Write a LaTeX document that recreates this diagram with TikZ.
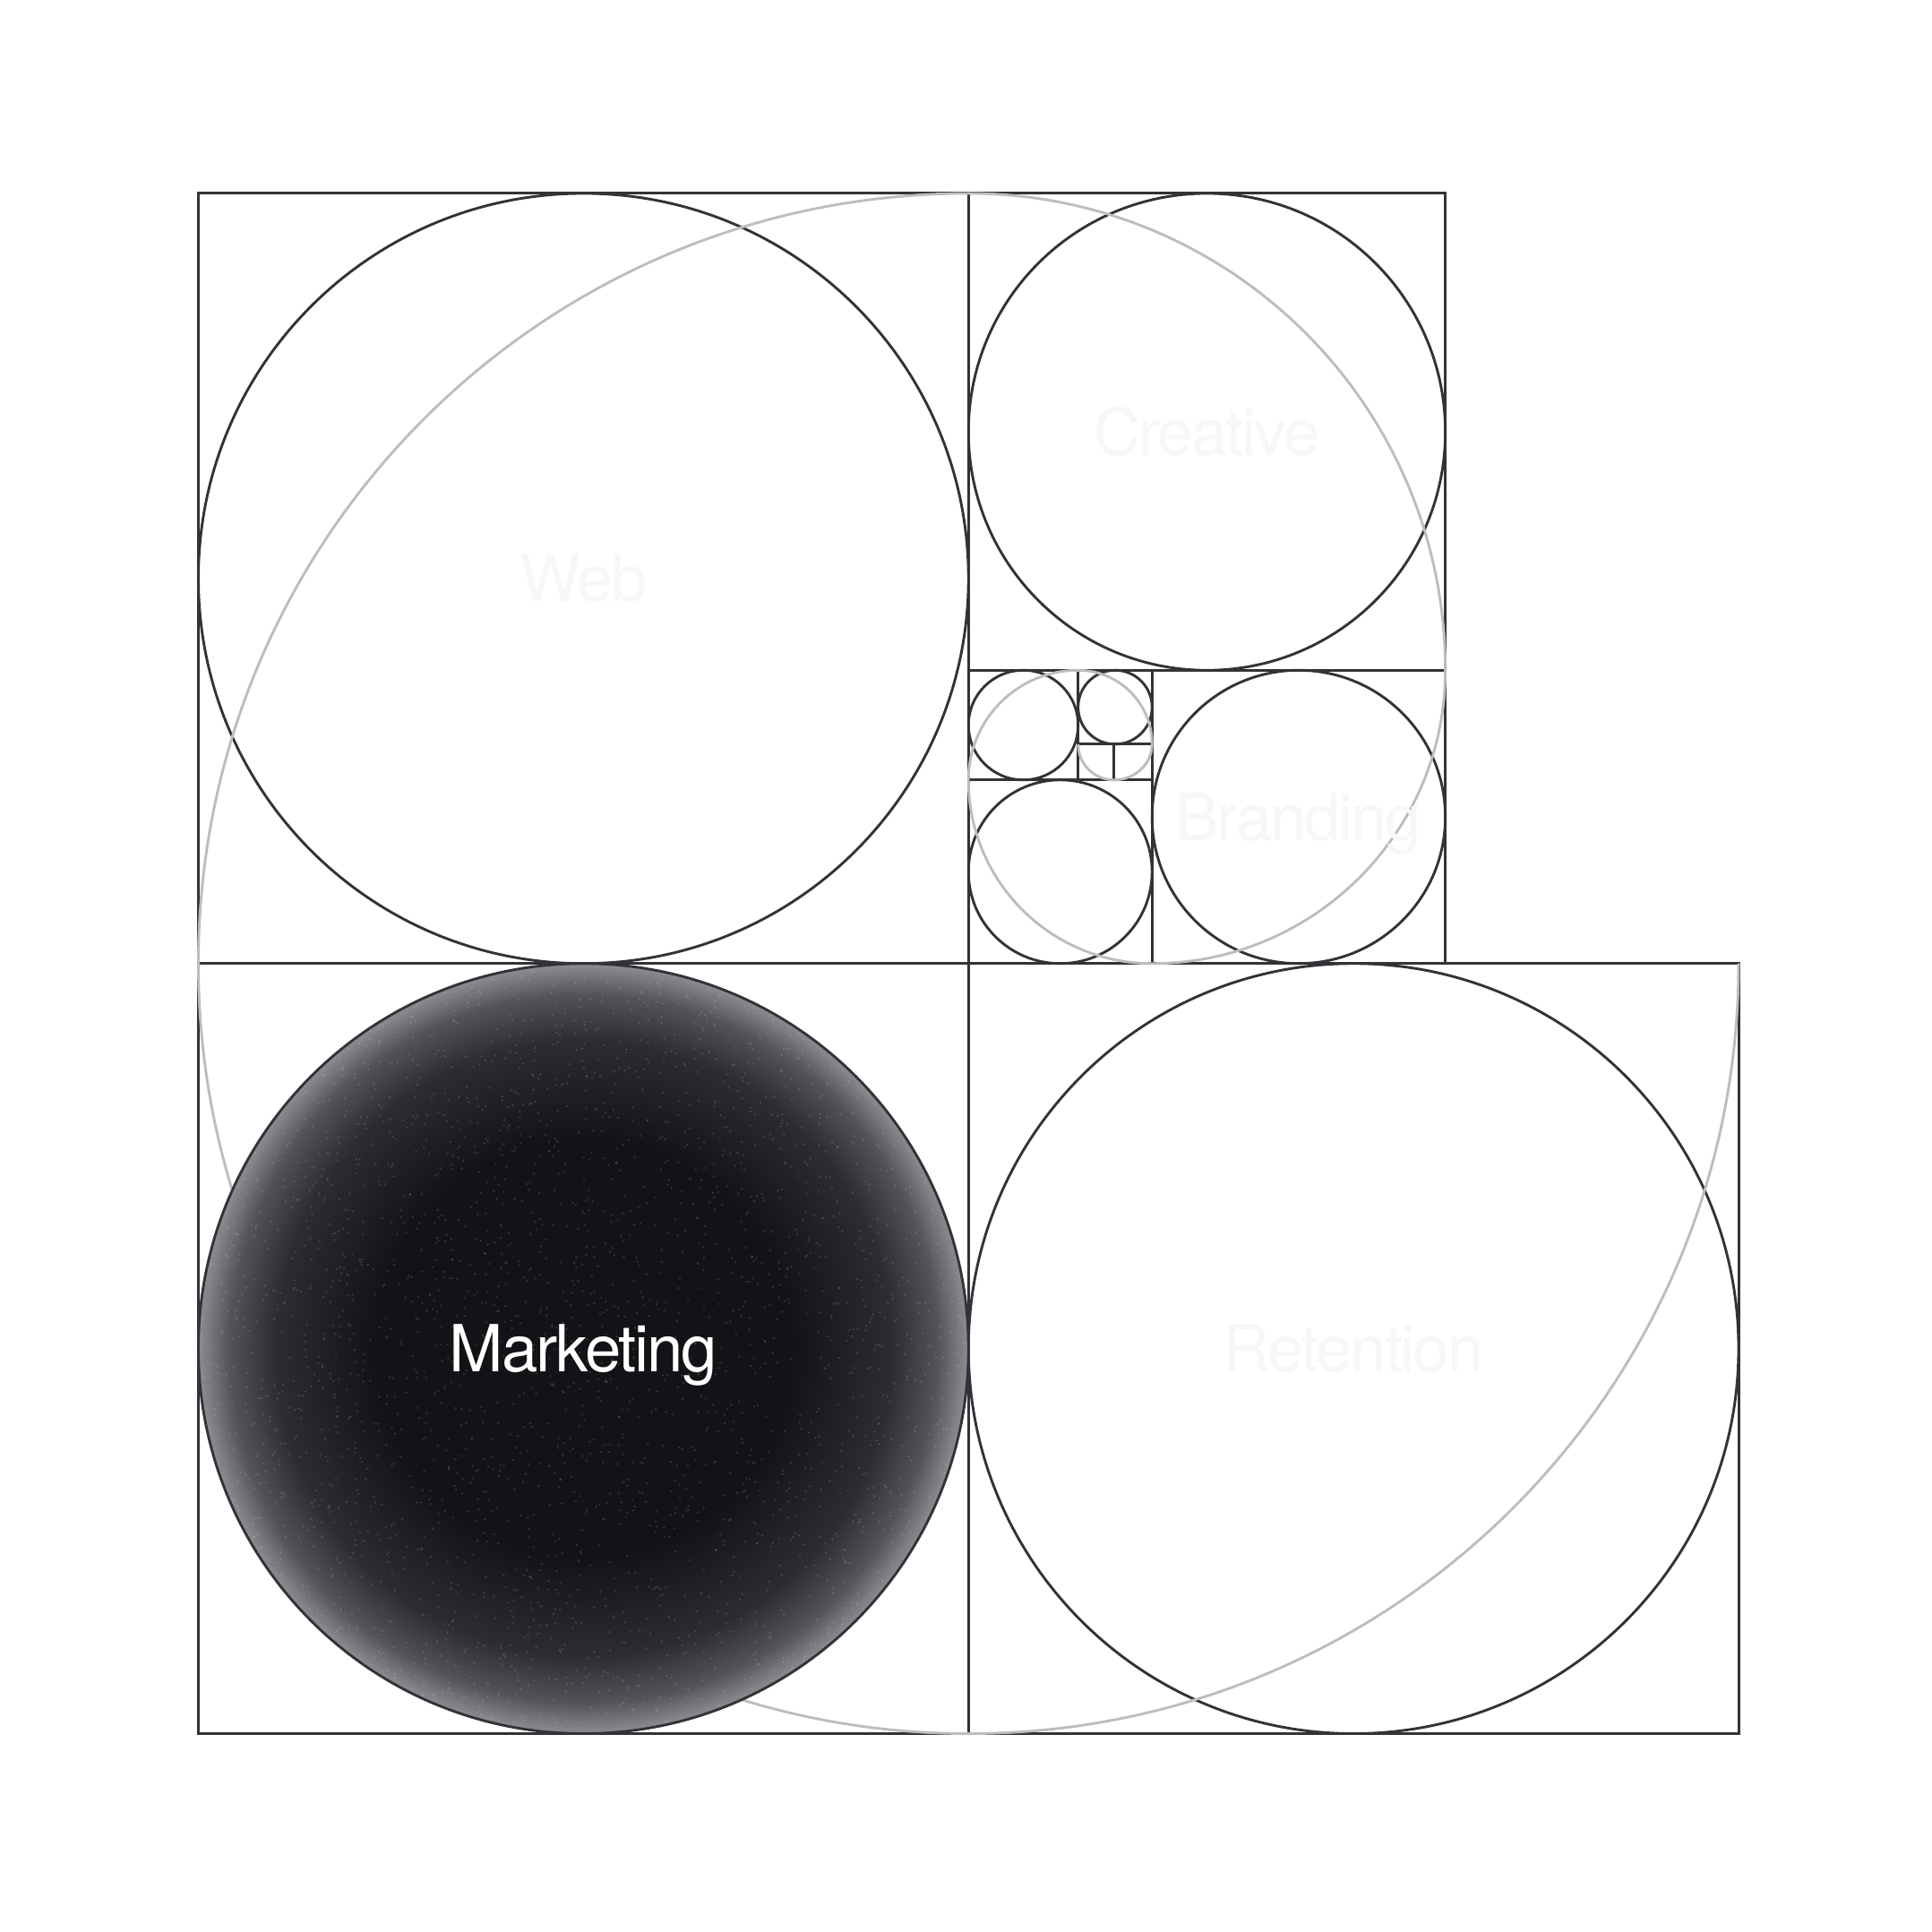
\documentclass[tikz,border=0pt]{standalone}
\usepackage{fontspec}
\newfontfamily\labelfont[LetterSpace=-3]{TeX Gyre Heros}
\definecolor{linegray}{HTML}{333236}
\definecolor{spiralgray}{HTML}{BDBDBD}
\definecolor{ghost}{HTML}{F7F7F9}
\definecolor{mkcore}{HTML}{141216}
\definecolor{mkmid}{HTML}{2E2C32}
\definecolor{mkedge}{HTML}{55535A}
\definecolor{mkrim}{HTML}{8E8C93}
\pgfdeclareradialshading{mkglow}{\pgfpoint{0bp}{0bp}}{color(0bp)=(mkcore);color(13.5bp)=(mkcore);color(20bp)=(mkmid);color(23bp)=(mkedge);color(25bp)=(mkrim);color(50bp)=(mkrim)}
\begin{document}
\begin{tikzpicture}[
    frame/.style={draw=linegray, line width=0.6pt},
    spiral/.style={draw=spiralgray, line width=0.6pt},
    tag/.style={font=\labelfont\fontsize{15}{18}\selectfont, text height=10.8pt, text depth=0pt, inner sep=0pt},
    ghosttag/.style={tag, text=ghost},
  ]
  \fill[white] (-1.61,-1.61) rectangle (14.07,14.07);
  \useasboundingbox (-1.61,-1.61) rectangle (14.07,14.07);

  % squares
  \draw[frame] (0,0) rectangle (12.5,6.25);
  \draw[frame] (0,6.25) rectangle (10.12,12.5);
  \draw[frame] (6.25,0) -- (6.25,12.5);
  \draw[frame] (6.25,8.63) -- (10.12,8.63);
  \draw[frame] (7.74,6.25) -- (7.74,8.63);
  \draw[frame] (6.25,7.74) -- (7.74,7.74);
  \draw[frame] (7.14,7.74) -- (7.14,8.63);
  \draw[frame] (7.14,8.03) -- (7.74,8.03);
  \draw[frame] (7.43,7.74) -- (7.43,8.03);

  % circles
  \draw[frame] (3.125,9.375) circle (3.125);
  \draw[frame] (9.375,3.125) circle (3.125);
  \draw[frame] (8.185,10.565) circle (1.935);
  \draw[frame] (8.93,7.44) circle (1.19);
  \draw[frame] (6.995,6.995) circle (0.745);
  \draw[frame] (6.695,8.185) circle (0.445);
  \draw[frame] (7.44,8.33) circle (0.30);

  % spiral
  \draw[spiral] (12.5,6.25) arc[start angle=0, end angle=-270, radius=6.25]
    arc[start angle=90, end angle=0, radius=3.87]
    arc[start angle=0, end angle=-90, radius=2.38]
    arc[start angle=-90, end angle=-180, radius=1.49]
    arc[start angle=180, end angle=90, radius=0.89]
    arc[start angle=90, end angle=0, radius=0.60]
    arc[start angle=0, end angle=-90, x radius=0.31, y radius=0.29]
    arc[start angle=-90, end angle=-180, radius=0.29];

  % marketing ball
  \shade[shading=mkglow] (3.125,3.125) circle (3.125);
  \pgfmathsetseed{7}
  \foreach \k in {1,...,2500}{
    \pgfmathsetmacro\ang{360*rnd}
    \pgfmathsetmacro\rad{3.1*sqrt(rnd)}
    \fill[white, opacity=0.15] (3.125,3.125) ++(\ang:\rad) circle (0.009);
  }
  \draw[frame] (3.125,3.125) circle (3.125);

  \node[ghosttag] (web) at (3.125,9.375) {Web};
  \node[ghosttag] (creative) at (8.185,10.565) {Creative};
  \node[ghosttag] (branding) at (8.93,7.44) {Branding};
  \node[tag, text=white] (marketing) at (3.125,3.125) {Marketing};
  \node[ghosttag] (retention) at (9.375,3.125) {Retention};
\end{tikzpicture}
\end{document}
